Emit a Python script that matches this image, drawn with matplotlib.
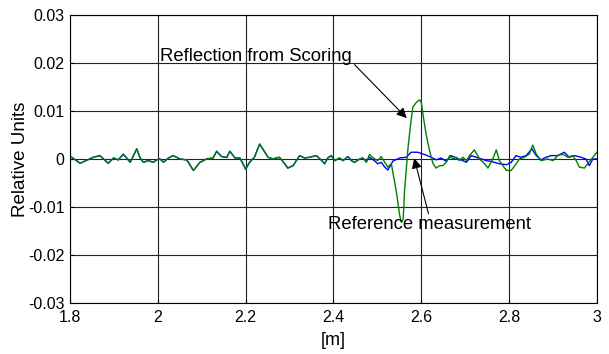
import numpy as np
import matplotlib.pyplot as plt
from matplotlib.ticker import FuncFormatter

plt.rcParams['font.family'] = ['Liberation Sans', 'DejaVu Sans']

# part where both measurements coincide
x_common = [1.800, 1.804, 1.823, 1.853, 1.868, 1.887, 1.899, 1.910, 1.921, 1.929,
            1.937, 1.952, 1.959, 1.967, 1.978, 1.990, 1.997, 2.005, 2.013, 2.024,
            2.035, 2.050, 2.066, 2.081, 2.096, 2.111, 2.126, 2.134, 2.145, 2.157,
            2.164, 2.176, 2.187, 2.200, 2.209, 2.220, 2.232, 2.239, 2.251, 2.262,
            2.277, 2.289, 2.296, 2.308, 2.323, 2.334, 2.346, 2.361, 2.372, 2.380,
            2.387, 2.395, 2.403, 2.414, 2.422, 2.433, 2.441, 2.448, 2.460, 2.467]
y_common = [0.0003, 0.00035, -0.0009, 0.00035, 0.0007, -0.0009, 0.0002, -0.0002, 0.001, 0.0002,
            -0.0007, 0.0021, 0.00035, -0.0007, -0.00035, -0.0007, -0.0002, 0.0, -0.0007, 0.0002,
            0.0007, 0.0, -0.0002, -0.0024, -0.0007, 0.0, 0.0002, 0.0016, 0.0005, 0.0003,
            0.0016, 0.0002, 0.0002, -0.0021, -0.0007, 0.00035, 0.0031, 0.0021, 0.00035, 0.0,
            0.00035, -0.001, -0.0019, -0.0014, 0.0007, 0.0002, 0.00035, 0.0007, -0.0002, -0.001,
            0.0002, 0.0007, -0.00035, 0.0002, -0.00035, 0.0005, -0.00035, -0.0007, 0.0, 0.0002]

# scored measurement (green)
x_scored = [2.475, 2.482, 2.494, 2.501, 2.509, 2.517, 2.524, 2.532, 2.536, 2.543,
            2.551, 2.555, 2.559, 2.562, 2.570, 2.575, 2.581, 2.589, 2.596, 2.600,
            2.605, 2.611, 2.619, 2.627, 2.634, 2.642, 2.649, 2.657, 2.665, 2.672,
            2.680, 2.687, 2.695, 2.703, 2.710, 2.721, 2.733, 2.744, 2.752, 2.763,
            2.771, 2.778, 2.786, 2.794, 2.805, 2.813, 2.824, 2.835, 2.846, 2.854,
            2.862, 2.873, 2.888, 2.900, 2.911, 2.922, 2.934, 2.945, 2.953, 2.960,
            2.972, 2.979, 2.991, 3.000]
y_scored = [-0.0007, 0.0009, 0.0, -0.00035, 0.0005, -0.0007, -0.0017, -0.001, -0.0031, -0.0066,
            -0.0118, -0.0132, -0.0125, -0.0066, 0.0024, 0.0066, 0.0108, 0.0118, 0.0123, 0.0118,
            0.0087, 0.0052, 0.0017, -0.001, -0.0019, -0.0014, -0.0014, -0.0007, 0.0007, 0.0,
            0.00035, -0.00035, 0.00035, -0.00035, 0.0007, 0.0019, 0.0, -0.001, -0.0019, 0.0,
            0.0019, -0.00035, -0.0014, -0.0024, -0.0024, -0.0014, 0.0, 0.00035, 0.001, 0.0029,
            0.001, -0.00035, 0.0, -0.00035, 0.0007, 0.001, 0.00035, 0.0007, -0.00035, -0.0017,
            -0.0019, -0.001, 0.00035, 0.0014]

# reference measurement (blue)
x_ref = [2.475, 2.482, 2.494, 2.501, 2.509, 2.517, 2.524, 2.532, 2.536, 2.551,
         2.566, 2.577, 2.592, 2.608, 2.623, 2.634, 2.645, 2.657, 2.668, 2.680,
         2.691, 2.703, 2.714, 2.725, 2.737, 2.748, 2.759, 2.778, 2.794, 2.805,
         2.816, 2.827, 2.839, 2.852, 2.862, 2.873, 2.884, 2.896, 2.911, 2.926,
         2.937, 2.949, 2.964, 2.975, 2.983, 2.991, 3.000]
y_ref = [-0.0005, 0.00035, -0.0004, -0.001, -0.0007, -0.0017, -0.0023, -0.001, -0.0004, 0.0002,
         0.00035, 0.0014, 0.0014, 0.0009, 0.00035, -0.0002, 0.0002, -0.0005, 0.0007, 0.0002,
         -0.0002, -0.0007, 0.0007, 0.00035, 0.0, -0.00035, -0.0005, -0.001, -0.0012, -0.0007,
         0.0007, 0.00035, 0.0007, 0.0021, 0.0007, -0.0002, 0.00035, 0.0007, 0.0007, 0.0014,
         0.00035, 0.0007, 0.00035, 0.0, -0.0014, 0.0, 0.0]

xg = np.array(x_common + x_scored)
yg = np.array(y_common + y_scored)
xb = np.array(x_common + x_ref)
yb = np.array(y_common + y_ref)

fig = plt.figure(figsize=(6.09, 3.54), dpi=100)
ax = fig.add_axes([0.115, 0.144, 0.865, 0.814])

ax.plot(xb, yb, color='#0000ff', lw=1.0)
ax.plot(xg, yg, color='#008000', lw=1.0)

ax.set_xlim(1.8, 3)
ax.set_ylim(-0.03, 0.03)
ax.set_xticks(np.arange(1.8, 3.01, 0.2))
ax.set_yticks(np.arange(-0.03, 0.031, 0.01))
fmt = FuncFormatter(lambda v, p: '%g' % round(v, 4))
ax.xaxis.set_major_formatter(fmt)
ax.yaxis.set_major_formatter(fmt)
ax.grid(True, color='#222222', lw=0.8, ls='-')
ax.set_axisbelow(True)
ax.tick_params(direction='in', length=3, labelsize=11.5, pad=5)
ax.tick_params(axis='y', pad=4)
for s in ax.spines.values():
    s.set_linewidth(0.8)

ax.set_xlabel('[m]', fontsize=13, labelpad=5)
ax.set_ylabel('Relative Units', fontsize=13.5)
ax.yaxis.set_label_coords(-0.078, 0.5)

ax.annotate('Reflection from Scoring', xy=(2.567, 0.0085), xytext=(2.005, 0.0213),
            fontsize=13.3, va='center', ha='left',
            arrowprops=dict(arrowstyle='-|>', color='k', lw=0.8, mutation_scale=15,
                            shrinkA=0, shrinkB=0, relpos=(1.0, 0.2)))
ax.annotate('Reference measurement', xy=(2.584, 0.00015), xytext=(2.388, -0.01375),
            fontsize=13.3, va='center', ha='left',
            arrowprops=dict(arrowstyle='-|>', color='k', lw=0.8, mutation_scale=15,
                            shrinkA=0, shrinkB=0, relpos=(0.5, 0.9)))

plt.savefig('out.png')
